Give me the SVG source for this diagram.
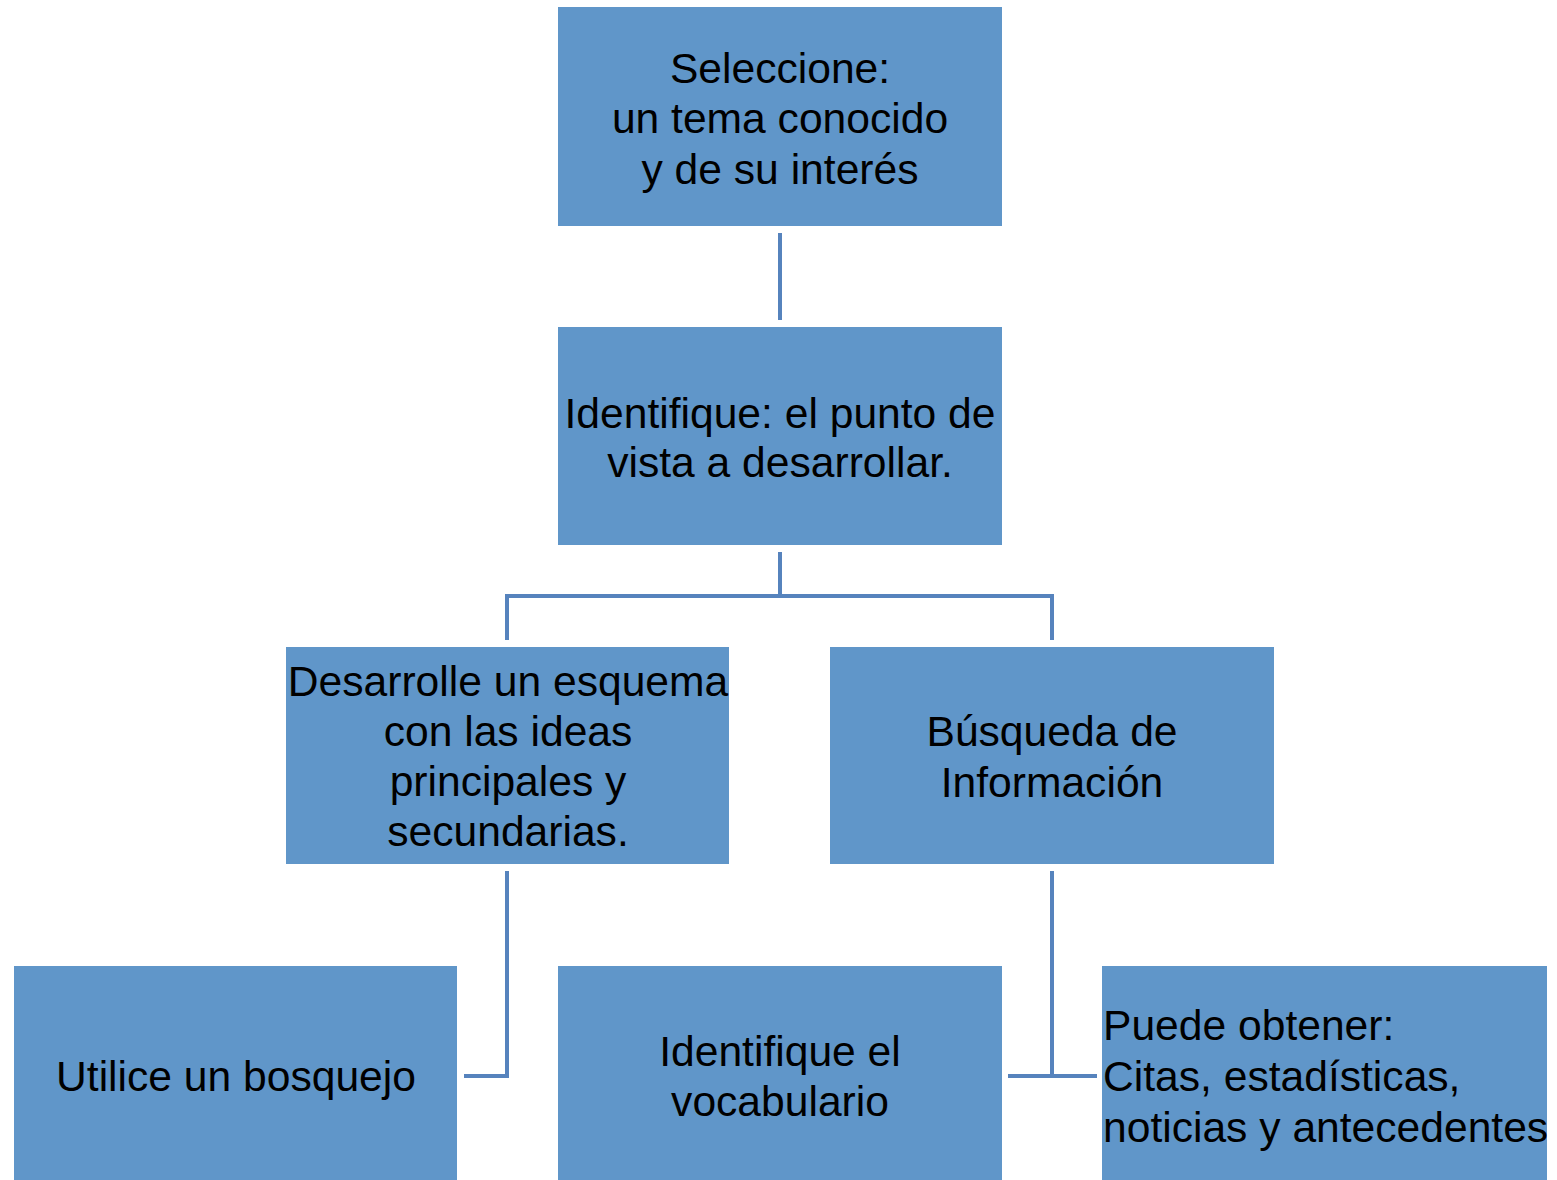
<svg xmlns="http://www.w3.org/2000/svg" width="1557" height="1180" viewBox="0 0 1557 1180">
<style>
.box{fill:#6096c9}
.t{font-family:"Liberation Sans",Arial,sans-serif;font-size:42.6px;fill:#000;text-anchor:middle}
.l{text-anchor:start}
.c{fill:none;stroke:#5683bd;stroke-width:4}
</style>
<rect width="1557" height="1180" fill="#fff"/>
<g id="connectors">
<path class="c" d="M780 233V320"/>
<path class="c" d="M780 552V596M507 640V596H1052V640"/>
<path class="c" d="M507 871V1076H464"/>
<path class="c" d="M1052 871V1076M1008 1076H1097"/>
</g>
<g id="n1"><rect class="box" x="558" y="7" width="444" height="219"/>
<text class="t" x="780" y="83">Seleccione:</text>
<text class="t" x="780" y="133">un tema conocido</text>
<text class="t" x="780" y="184">y de su interés</text></g>
<g id="n2"><rect class="box" x="558" y="327" width="444" height="218"/>
<text class="t" x="780" y="428">Identifique: el punto de</text>
<text class="t" x="780" y="477">vista a desarrollar.</text></g>
<g id="n3"><rect class="box" x="286" y="647" width="443" height="217"/>
<text class="t" x="508" y="696">Desarrolle un esquema</text>
<text class="t" x="508" y="746">con las ideas</text>
<text class="t" x="508" y="796">principales y</text>
<text class="t" x="508" y="846">secundarias.</text></g>
<g id="n4"><rect class="box" x="830" y="647" width="444" height="217"/>
<text class="t" x="1052" y="746">Búsqueda de</text>
<text class="t" x="1052" y="797">Información</text></g>
<g id="n5"><rect class="box" x="14" y="966" width="443" height="214"/>
<text class="t" x="236" y="1091">Utilice un bosquejo</text></g>
<g id="n6"><rect class="box" x="558" y="966" width="444" height="214"/>
<text class="t" x="780" y="1066">Identifique el</text>
<text class="t" x="780" y="1116">vocabulario</text></g>
<g id="n7"><rect class="box" x="1102" y="966" width="445" height="214"/>
<text class="t l" x="1103" y="1040">Puede obtener:</text>
<text class="t l" x="1103" y="1091">Citas, estadísticas,</text>
<text class="t l" x="1103" y="1142">noticias y antecedentes</text></g>
</svg>
